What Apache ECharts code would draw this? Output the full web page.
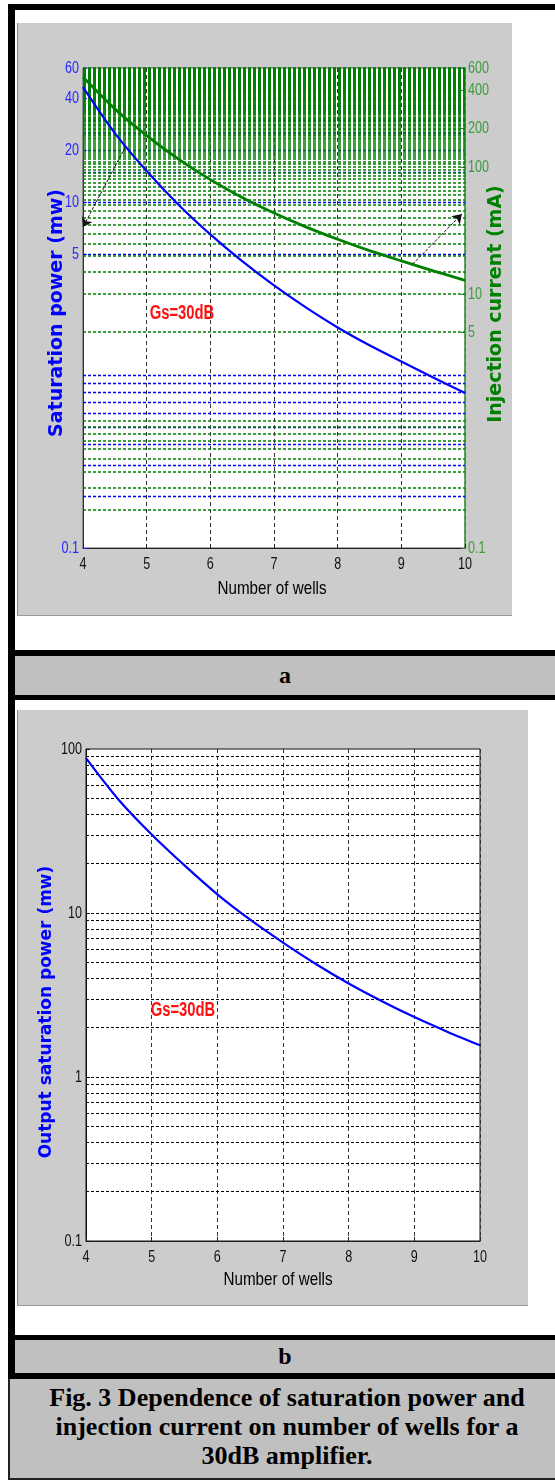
<!DOCTYPE html>
<html><head><meta charset="utf-8">
<script src="https://cdn.jsdelivr.net/npm/echarts@6/dist/echarts.min.js"></script>
<style>
html,body{margin:0;padding:0;background:#fff;}
#page{position:relative;width:555px;height:1484px;overflow:hidden;background:#fff;}
.blk{position:absolute;background:#000;}
.gray{position:absolute;background:#cccccc;}
.row{position:absolute;background:#c0c0c0;font-family:'Liberation Serif','Times New Roman',serif;font-weight:bold;text-align:center;color:#000;}
#chart{position:absolute;left:0;top:0;width:555px;height:1484px;}
</style></head><body>
<div id="page">
  <div class="blk" style="left:8px;top:4px;width:547px;height:6px"></div>
  <div class="blk" style="left:8px;top:4px;width:7px;height:1375px"></div>
  <div class="gray" style="left:17px;top:23px;width:494px;height:592px;border-left:1px solid #8a8a8a;border-bottom:1px solid #9a9a9a"></div>
  <div class="blk" style="left:8px;top:650px;width:547px;height:6px"></div>
  <div class="row" style="left:15px;top:656px;width:540px;height:39px;line-height:39px;font-size:24px">a</div>
  <div class="blk" style="left:8px;top:695px;width:547px;height:5px"></div>
  <div class="gray" style="left:17px;top:710px;width:510px;height:595px;border-left:1px solid #8a8a8a;border-bottom:1px solid #9a9a9a"></div>
  <div class="blk" style="left:8px;top:1335px;width:547px;height:5px"></div>
  <div class="row" style="left:15px;top:1340px;width:540px;height:33px;line-height:33px;font-size:24px">b</div>
  <div class="blk" style="left:8px;top:1373px;width:547px;height:6px"></div>
  <div class="row" style="left:8px;top:1379px;width:556px;height:101px;border-left:2px solid #222;border-bottom:2px solid #222;font-size:26px;line-height:29px;padding-top:4px;box-sizing:border-box;">Fig. 3 Dependence of saturation power and<br>injection current on number of wells for a<br>30dB amplifier.</div>
  <div id="chart"></div>
</div>
<script>
// ---- data ----
const wells = [4, 4.5, 5, 5.5, 6, 6.5, 7, 7.5, 8, 8.5, 9, 9.5, 10];
const satPowerA = [46.5, 25.2, 15.2, 9.7, 6.53, 4.57, 3.31, 2.47, 1.89, 1.49, 1.20, 0.97, 0.79];
const injCurrentA = [509, 286, 176, 115, 79.4, 57.5, 43.4, 33.7, 26.9, 21.9, 18.2, 15.2, 12.8];
const satPowerB = [88, 48.9, 30.1, 19.5, 13.0, 9.1, 6.6, 4.89, 3.72, 2.91, 2.32, 1.89, 1.56];
const xTicks = [4, 5, 6, 7, 8, 9, 10];
const leftTicksA = [0.1, 5, 10, 20, 40, 60];
const rightTicksA = [0.1, 5, 10, 100, 200, 400, 600];
const leftTicksB = [0.1, 1, 10, 100];
const fineGrid = [0.2, 0.3, 0.4, 0.5, 0.6, 0.7, 0.8, 0.9, 1];
const coarseStep = 5, leftGridTop = 60, rightGridTop = 600;
const gridB = [0.2,0.3,0.4,0.5,0.6,0.7,0.8,0.9,1,2,3,4,5,6,7,8,9,10,20,30,40,50,60,70,80,90];
const arrowLeft = [[4.66, 20.8], [4.0, 7.2]];
const arrowRight = [[9.18, 17.2], [9.95, 42.5]];

function stepValues(step, top){ const r=[]; for(let v=step; v<=top+1e-9; v+=step) r.push(v); return r; }
const leftGridA = fineGrid.concat(stepValues(coarseStep, leftGridTop));
const rightGridA = fineGrid.concat(stepValues(coarseStep, rightGridTop));

const SANS = "'Liberation Sans',Arial,sans-serif";
const WIDE = "'DejaVu Sans',Verdana,sans-serif";
const fmt = v => String(+(+v).toPrecision(6));

function xAx(grid){
  return {type:'value', gridIndex:grid, min:4, max:10, interval:1,
    axisLine:{show:true, onZero:false, lineStyle:{color:'#222', width:1}},
    axisTick:{show:true, inside:true, length:4, lineStyle:{color:'#222'}},
    axisLabel:{show:false},
    splitLine:{show:true, lineStyle:{color:'#333', type:[4,3], width:1}}};
}
function yAx(grid, max, pos, ticks, lineColor, tickColor, lw){
  return {type:'log', logBase:10, gridIndex:grid, min:0.1, max:max, position:pos,
    axisLine:{show:true, lineStyle:{color:lineColor, width:lw}},
    axisTick:{show:true, inside:true, length:4, customValues:ticks, lineStyle:{color:tickColor}},
    axisLabel:{show:false}, splitLine:{show:false}};
}
function gridLines(xi, yi, vals, color, z, w){
  return {type:'line', xAxisIndex:xi, yAxisIndex:yi, data:[], z:z, silent:true,
    markLine:{silent:true, z:z, symbol:['none','none'], label:{show:false}, animation:false,
      lineStyle:{color:color, width:w, type:[3,2]}, emphasis:{disabled:true},
      data: vals.map(v => ({yAxis:v}))}};
}
function arrow(xi, yi, pts){
  return {type:'line', xAxisIndex:xi, yAxisIndex:yi, data:[], z:12, silent:true,
    markLine:{silent:true, z:12, symbol:['none','arrow'], symbolSize:9, label:{show:false}, animation:false,
      lineStyle:{color:'#111', width:1, type:[3,1.5]}, emphasis:{disabled:true},
      data:[[{coord:pts[0]},{coord:pts[1]}]]}};
}
const pairs = ys => wells.map((x,i)=>[x, ys[i]]);

const option = {
  animation:false,
  backgroundColor:'transparent',
  grid:[
    {left:83, top:68, width:382, height:480, show:true, backgroundColor:'#fff', borderColor:'#555', borderWidth:1},
    {left:86, top:749, width:394, height:492, show:true, backgroundColor:'#fff', borderColor:'#111', borderWidth:1}
  ],
  xAxis:[xAx(0), xAx(1)],
  yAxis:[
    yAx(0, 60, 'left', leftTicksA, '#333', '#2020ff', 1),
    yAx(0, 600, 'right', rightTicksA, '#44a044', '#2a8a2a', 1.5),
    yAx(1, 100, 'left', leftTicksB, '#111', '#111', 1)
  ],
  series:[
    gridLines(0, 0, leftGridA, '#0000ff', 3, 1.3),
    gridLines(0, 1, rightGridA, '#008000', 4, 1.6),
    {type:'line', name:'Saturation power', xAxisIndex:0, yAxisIndex:0, data:pairs(satPowerA), smooth:0.3,
      showSymbol:false, z:10, lineStyle:{color:'#0000ff', width:2.2}, itemStyle:{color:'#0000ff'}},
    {type:'line', name:'Injection current', xAxisIndex:0, yAxisIndex:1, data:pairs(injCurrentA), smooth:0.3,
      showSymbol:false, z:10, lineStyle:{color:'#008000', width:2.8}, itemStyle:{color:'#008000'}},
    arrow(0, 0, arrowLeft),
    arrow(0, 1, arrowRight),
    gridLines(1, 2, gridB, '#000000', 3, 1.15),
    {type:'line', name:'Output saturation power', xAxisIndex:1, yAxisIndex:2, data:pairs(satPowerB), smooth:0.3,
      showSymbol:false, z:10, lineStyle:{color:'#0000ff', width:2.2}, itemStyle:{color:'#0000ff'}}
  ]
};
const chart = echarts.init(document.getElementById('chart'), null, {renderer:'canvas', width:555, height:1484});
chart.setOption(option);

// tick labels placed through the axes' own scales
function label(x, y, text, color, align){
  return {type:'text', x:x, y:y, scaleX:0.74, z:20, silent:true,
    style:{text:text, fill:color, font:"17px "+SANS, align:align, verticalAlign:'middle'}};
}
const g = [];
function yLabels(yi, ticks, color, side){
  ticks.forEach(v => {
    const py = chart.convertToPixel({yAxisIndex:yi}, v);
    const px = side === 'left' ? chart.convertToPixel({xAxisIndex: yi===2?1:0}, 4) - 4
                               : chart.convertToPixel({xAxisIndex:0}, 10) + 3;
    g.push(label(px, py, fmt(v), color, side === 'left' ? 'right' : 'left'));
  });
}
function xLabels(xi, yi){
  const base = chart.convertToPixel({yAxisIndex:yi}, 0.1);
  xTicks.forEach(v => g.push(label(chart.convertToPixel({xAxisIndex:xi}, v), base + 16, fmt(v), '#111', 'center')));
}
yLabels(0, leftTicksA, '#2828ff', 'left');
yLabels(1, rightTicksA, '#3f9a3f', 'right');
yLabels(2, leftTicksB, '#111', 'left');
xLabels(0, 0);
xLabels(1, 2);

const gs = "bold 20px "+SANS;
g.push(
  {type:'text', x:182, y:313, scaleX:0.74, z:20, style:{text:'Gs=30dB', fill:'#ff1010', font:gs, align:'center', verticalAlign:'middle'}},
  {type:'text', x:183, y:1010, scaleX:0.74, z:20, style:{text:'Gs=30dB', fill:'#ff1010', font:gs, align:'center', verticalAlign:'middle'}},
  {type:'text', x:272, y:589, scaleX:0.8, z:20, style:{text:'Number of wells', fill:'#000', font:"19px "+SANS, align:'center', verticalAlign:'middle'}},
  {type:'text', x:278, y:1280, scaleX:0.8, z:20, style:{text:'Number of wells', fill:'#000', font:"19px "+SANS, align:'center', verticalAlign:'middle'}},
  {type:'text', x:57, y:313, rotation:Math.PI/2, z:20, style:{text:'Saturation power (mw)', fill:'#0000ff', font:"bold 19px "+WIDE, align:'center', verticalAlign:'middle'}},
  {type:'text', x:496, y:304, rotation:Math.PI/2, z:20, style:{text:'Injection current (mA)', fill:'#008000', font:"bold 19px "+WIDE, align:'center', verticalAlign:'middle'}},
  {type:'text', x:47, y:1012, rotation:Math.PI/2, z:20, style:{text:'Output saturation power (mw)', fill:'#0000ff', font:"bold 17px "+WIDE, align:'center', verticalAlign:'middle'}}
);
chart.setOption({graphic: g});
</script>
</body></html>
